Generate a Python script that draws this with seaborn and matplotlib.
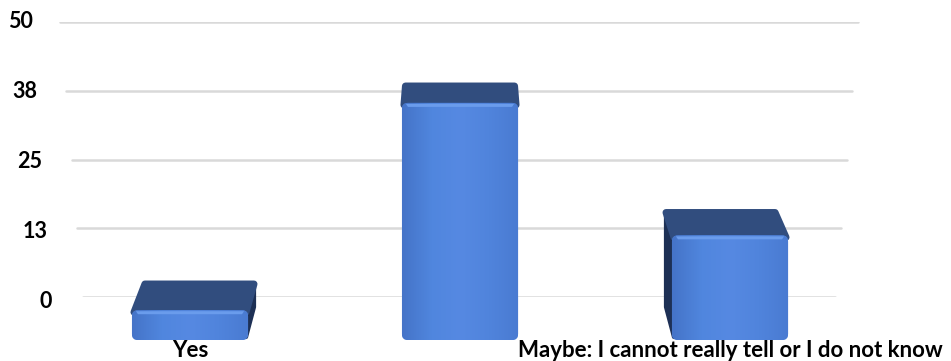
import numpy as np
import pandas as pd
import matplotlib
matplotlib.use("Agg")
import matplotlib.pyplot as plt
import seaborn as sns
from matplotlib.patches import Polygon, FancyBboxPatch
from matplotlib.transforms import Affine2D, IdentityTransform
from matplotlib.colors import LinearSegmentedColormap

# ---- data ----
categories = ["Yes", "No", "Maybe: I cannot really tell or I do not know"]
values = [2, 38, 15]
x_tick_labels = ["Yes", "", "Maybe: I cannot really tell or I do not know"]
y_ticks = [0, 12.5, 25, 37.5, 50]
y_tick_labels = ["0", "13", "25", "38", "50"]

sns.set_theme(style="white")
plt.rcParams["font.family"] = ["Lato", "DejaVu Sans"]

W, H = 951, 361
fig = plt.figure(figsize=(W / 100, H / 100), dpi=100)
ax_left, ax_right = 55, 865
ax = fig.add_axes([ax_left / W, (H - 297) / H, (ax_right - ax_left) / W, 275 / H])

front_col = "#4F82DA"
top_col = "#314D7E"
side_col = "#1D3055"
hi_col = "#6A9CEC"
grad = LinearSegmentedColormap.from_list(
    "front", ["#4574C8", "#5086DE", "#5689E2", "#5084DC", "#4A7BD2"])

df = pd.DataFrame({"cat": categories, "val": values})
sns.barplot(data=df, x="cat", y="val", color=front_col, saturation=1,
            width=0.43, ax=ax, zorder=5)
ax.set_xlim(-0.5, 2.5)
ax.set_ylim(0, 50)
ax.set_xlabel("")
ax.set_ylabel("")
for s in ax.spines.values():
    s.set_visible(False)

# perspective gridlines on the back wall
ax.grid(False)
n = len(y_ticks)
for i, yv in enumerate(y_ticks):
    k = n - 1 - i  # 0 for the top line
    start = 60 + k * 5.75
    end = 858 - k * 5.75
    ax.axhline(yv, xmin=(start - ax_left) / (ax_right - ax_left),
               xmax=(end - ax_left) / (ax_right - ax_left),
               color="#D9D9D9", lw=1.8, zorder=0)

ax.set_yticks(y_ticks)
ax.set_yticklabels(y_tick_labels, fontweight="bold", fontsize=15.5, color="black")
ax.tick_params(axis="y", length=0, pad=16)
for i, lab in enumerate(ax.get_yticklabels()):
    k = n - 1 - i
    lab.set_transform(lab.get_transform() + Affine2D().translate(k * 4.8, 2 - k * 1.0))

ax.set_xticks(range(len(categories)))
ax.set_xticklabels(x_tick_labels, fontweight="bold", fontsize=16, color="black")
ax.tick_params(axis="x", length=0, pad=31)
for lab in ax.get_xticklabels():
    lab.set_zorder(20)

# pseudo-3D faces derived from the seaborn bars
Y0 = ax.transData.transform((0, 0))[1]
mid_px = ax.transData.transform((1, 0))[0]
front_bottom = H - 340
inv = ax.transData.inverted()
for p in ax.patches[:len(values)]:
    x0, w, h = p.get_x(), p.get_width(), p.get_height()
    X0, _ = ax.transData.transform((x0, 0))
    X1, Y1 = ax.transData.transform((x0 + w, h))
    xc = (X0 + X1) / 2
    bdx = -(xc - mid_px) * 0.035
    btop = Y1 + 2                                  # back edge of top face (display px)
    depth = 17 + 0.047 * ((H - btop) - 88)         # top face looks deeper lower down
    ftop = btop - depth                            # front edge of top face
    bbot = Y0 - 10
    shrink = (X1 - X0) * 0.03
    bx0, bx1 = X0 + bdx + shrink, X1 + bdx - shrink
    # side face
    side = None
    if bdx < -1:
        side = [(X0 + 2, front_bottom + 3), (X0 + 2, ftop - 3), (bx0, btop - 3), (bx0, bbot)]
    elif bdx > 1:
        side = [(X1 - 2, front_bottom + 3), (X1 - 2, ftop - 3), (bx1, btop - 3), (bx1, bbot)]
    if side is not None:
        ax.add_artist(Polygon(side, closed=True, transform=IdentityTransform(),
                              facecolor=side_col, edgecolor=side_col, lw=3,
                              joinstyle="round", zorder=3, clip_on=False))
    # top face
    top = [(X0 + 2, ftop - 2), (X1 - 2, ftop - 2), (bx1, btop), (bx0, btop)]
    ax.add_artist(Polygon(top, closed=True, transform=IdentityTransform(),
                          facecolor=top_col, edgecolor=top_col, lw=5, joinstyle="round",
                          zorder=4, clip_on=False))
    # front face (rounded) replacing the flat seaborn rectangle
    p.set_visible(False)
    fb = FancyBboxPatch((X0, front_bottom), X1 - X0, ftop - front_bottom,
                        boxstyle="round,pad=0,rounding_size=6",
                        transform=IdentityTransform(), facecolor=front_col,
                        edgecolor="none", zorder=5, clip_on=False)
    ax.add_artist(fb)
    dx0, dy0 = inv.transform((X0, front_bottom))
    dx1, dy1 = inv.transform((X1, ftop))
    im = ax.imshow(np.linspace(0, 1, 64)[None, :], cmap=grad, aspect="auto",
                   extent=(dx0, dx1, dy0, dy1), zorder=5.5, interpolation="bilinear")
    im.set_clip_box(fig.bbox)
    im.set_clip_path(fb)
    # highlight along the bevel
    ax.add_artist(Polygon([(X0 + 4, ftop - 1), (X1 - 4, ftop - 1), (X1 - 6, ftop - 4), (X0 + 6, ftop - 4)],
                          closed=True, transform=IdentityTransform(), facecolor=hi_col,
                          edgecolor="none", zorder=7, clip_on=False))

ax.set_xlim(-0.5, 2.5)
ax.set_ylim(0, 50)
fig.savefig("out.png", dpi=100, facecolor="white")
